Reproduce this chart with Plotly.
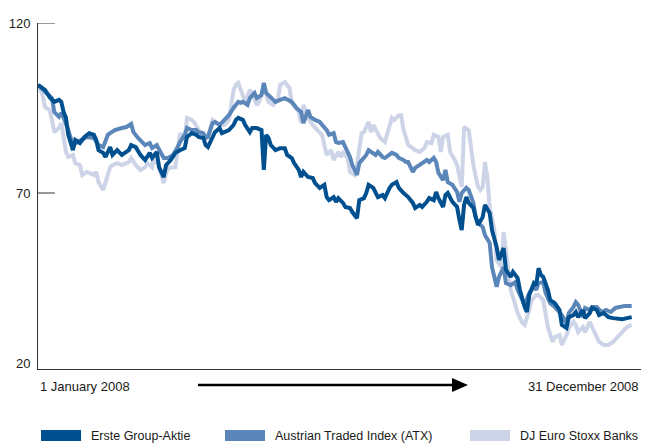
import plotly.graph_objects as go

# trading-day index (0 = 1 Jan 2008, 255 = 31 Dec 2008) and indexed values
erste_day = [0, 3, 5, 7, 9, 10, 11, 12, 13, 15, 16, 18, 20, 22, 24, 25, 26, 28, 29, 31,
             32, 34, 36, 39, 40, 42, 44, 46, 48, 49, 51, 52, 54, 55, 57, 59, 61, 63, 64, 66,
             68, 69, 71, 72, 73, 75, 76, 78, 79, 82, 84, 85, 86, 88, 89, 91, 92, 94, 96, 97,
             98, 99, 100, 102, 104, 106, 107, 109, 110, 112, 113, 114, 116, 118, 119, 121, 123, 124, 125, 127,
             128, 129, 131, 132, 134, 135, 137, 138, 140, 141, 142, 144, 145, 146, 148, 149, 151, 152, 154, 155,
             157, 158, 159, 161, 162, 164, 165, 167, 168, 170, 171, 172, 174, 175, 176, 178, 180, 181, 182, 183,
             184, 185, 187, 188, 189, 191, 192, 194, 195, 197, 198, 200, 201, 203, 204, 206, 207, 209, 210, 211,
             213, 214, 215, 216, 217, 219, 220, 222, 224, 225, 227, 228, 230, 231, 232, 234, 235, 237, 238, 240,
             241, 243, 244, 245, 247, 249, 251, 253, 255]
erste_val = [101.8, 100.3, 98.2, 96.8, 97.4, 96.8, 93.8, 92.1, 87.1, 82.6, 85.6, 84.7, 86.5, 87.6, 87.1, 85.6, 82.6, 81.8, 80.6, 83.5,
             81.2, 82.6, 81.2, 82.6, 84.1, 83.5, 81.2, 79.7, 81.8, 80.3, 82.1, 77.6, 74.7, 78.2, 79.7, 81.8, 82.6, 83.2, 86.5, 87.6,
             87.1, 86.5, 86.2, 84.1, 83.5, 86.2, 87.9, 89.1, 87.6, 88.5, 90.0, 91.5, 92.1, 91.5, 90.0, 87.9, 89.1, 89.1, 88.5, 76.8,
             87.1, 86.2, 84.1, 82.6, 83.2, 83.2, 81.2, 80.3, 78.8, 76.8, 74.7, 76.2, 74.7, 74.4, 72.9, 71.5, 72.4, 68.8, 67.9, 68.8,
             67.4, 68.5, 67.1, 65.9, 65.6, 64.4, 62.6, 67.9, 68.5, 70.0, 72.4, 71.5, 70.3, 68.8, 69.4, 68.5, 71.5, 72.4, 73.2, 71.5,
             70.0, 69.4, 68.8, 67.1, 65.6, 66.5, 65.9, 67.4, 68.5, 67.9, 70.3, 68.5, 65.9, 69.4, 70.0, 67.4, 65.9, 62.1, 59.1, 66.5,
             68.8, 67.1, 65.6, 62.9, 60.6, 62.9, 66.5, 64.1, 59.1, 54.1, 50.3, 53.8, 47.4, 45.3, 46.8, 45.0, 41.5, 36.5, 35.0, 40.0,
             43.5, 42.9, 47.9, 45.9, 45.3, 41.5, 38.5, 37.6, 35.6, 31.2, 30.3, 33.5, 34.1, 35.0, 33.5, 35.6, 33.2, 34.7, 36.2, 35.6,
             34.1, 34.7, 34.1, 33.5, 33.2, 32.9, 32.9, 33.2, 33.5]

atx_day = [0, 3, 5, 6, 7, 9, 10, 11, 13, 15, 17, 19, 21, 24, 26, 28, 30, 31, 33, 36,
           38, 40, 41, 43, 46, 48, 49, 51, 53, 54, 56, 58, 60, 61, 63, 64, 66, 68, 69, 71,
           72, 73, 75, 76, 78, 80, 82, 84, 86, 87, 88, 90, 91, 93, 94, 96, 97, 98, 100, 102,
           104, 106, 109, 111, 113, 114, 116, 117, 119, 121, 124, 125, 127, 128, 129, 131, 132, 134, 135, 137,
           138, 140, 141, 142, 144, 145, 146, 148, 149, 151, 152, 154, 155, 157, 158, 159, 161, 162, 164, 167,
           168, 170, 171, 172, 174, 175, 176, 178, 180, 181, 182, 184, 185, 187, 188, 189, 191, 192, 194, 195,
           197, 198, 200, 201, 203, 205, 206, 208, 209, 211, 213, 214, 215, 217, 218, 220, 222, 225, 227, 228,
           230, 231, 232, 234, 235, 237, 238, 240, 242, 244, 246, 248, 250, 252, 255]
atx_val = [101.8, 99.7, 98.2, 97.9, 93.8, 92.4, 93.5, 92.1, 88.5, 84.1, 85.0, 85.6, 86.5, 86.2, 84.1, 83.5, 87.1, 87.6, 88.5, 89.1,
           89.4, 90.3, 87.9, 86.2, 84.1, 84.7, 83.2, 84.1, 81.2, 80.3, 80.3, 81.2, 83.5, 85.0, 87.1, 89.1, 88.5, 88.5, 87.9, 87.6,
           86.2, 86.5, 90.6, 90.9, 90.0, 91.5, 92.9, 95.0, 96.8, 96.5, 96.8, 95.9, 97.9, 99.4, 97.9, 98.8, 102.4, 99.4, 97.9, 96.8,
           97.4, 97.9, 96.8, 95.0, 93.8, 90.6, 94.4, 92.4, 91.5, 90.9, 88.5, 87.1, 87.6, 85.0, 84.7, 85.0, 83.5, 80.6, 78.2, 75.3,
           78.8, 80.3, 81.2, 82.6, 81.8, 81.2, 82.1, 80.6, 80.3, 81.2, 81.8, 81.2, 80.3, 79.7, 79.1, 79.1, 76.2, 77.4, 78.2, 79.7,
           79.1, 80.3, 79.1, 75.9, 73.8, 76.8, 73.2, 72.4, 70.3, 67.4, 70.0, 71.5, 70.9, 67.1, 62.9, 61.2, 60.0, 57.6, 55.3, 48.2,
           42.4, 45.3, 48.2, 43.5, 42.9, 43.8, 41.5, 38.5, 37.1, 40.6, 42.4, 41.5, 43.5, 43.8, 40.6, 37.6, 36.5, 34.1, 31.8, 34.7,
           36.5, 37.9, 37.1, 33.5, 36.2, 35.6, 36.5, 36.5, 35.0, 35.6, 35.0, 36.2, 36.5, 36.8, 36.8]

dj_day = [0, 2, 3, 5, 6, 7, 9, 10, 11, 12, 13, 15, 16, 18, 19, 21, 22, 24, 25, 26,
          28, 29, 31, 32, 34, 36, 39, 40, 42, 44, 46, 47, 49, 50, 52, 54, 55, 56, 58, 59,
          60, 61, 63, 64, 66, 67, 69, 70, 71, 73, 75, 76, 78, 80, 82, 84, 85, 86, 88, 89,
          91, 92, 94, 95, 97, 99, 101, 103, 104, 106, 108, 109, 112, 113, 114, 116, 118, 120, 122, 124,
          126, 127, 129, 130, 131, 133, 134, 136, 137, 139, 140, 142, 143, 144, 146, 147, 149, 150, 152, 153,
          155, 156, 157, 158, 159, 161, 162, 164, 166, 167, 169, 170, 172, 173, 174, 176, 177, 179, 180, 182,
          183, 185, 186, 187, 189, 190, 191, 192, 193, 194, 196, 197, 199, 200, 202, 203, 204, 206, 208, 209,
          211, 212, 214, 215, 217, 218, 219, 221, 222, 224, 225, 227, 228, 230, 231, 232, 234, 235, 237, 238,
          240, 241, 243, 245, 247, 249, 251, 253, 255]
dj_val = [101.8, 98.8, 95.3, 94.4, 91.5, 87.9, 89.1, 90.6, 86.5, 82.1, 80.6, 81.2, 78.8, 78.2, 75.3, 76.2, 75.9, 75.3, 76.2, 73.2,
          70.9, 73.2, 77.6, 78.2, 78.8, 78.2, 79.1, 80.3, 78.2, 76.8, 77.6, 78.8, 77.6, 80.6, 77.6, 72.9, 75.9, 77.4, 77.6, 77.6,
          82.6, 87.6, 85.6, 92.1, 91.5, 90.9, 88.5, 87.9, 86.5, 86.5, 91.5, 90.9, 90.0, 90.0, 91.5, 100.3, 101.8, 102.4, 98.8, 96.8,
          100.3, 99.4, 95.9, 96.8, 101.5, 96.8, 95.9, 97.4, 101.8, 102.6, 100.9, 96.5, 93.8, 90.6, 95.9, 92.1, 90.0, 88.5, 87.1, 81.2,
          82.6, 79.7, 82.1, 80.6, 81.8, 80.3, 76.2, 75.3, 78.2, 87.6, 87.9, 90.9, 87.9, 90.0, 87.6, 86.2, 85.0, 87.1, 92.1, 91.5,
          92.9, 92.9, 88.5, 86.5, 84.1, 83.2, 82.6, 82.1, 83.2, 85.0, 84.7, 87.1, 86.5, 82.1, 86.5, 87.1, 82.1, 79.7, 78.2, 71.8,
          89.4, 88.5, 82.6, 78.2, 71.8, 70.9, 71.8, 79.1, 74.7, 65.9, 59.1, 50.3, 48.2, 58.5, 47.4, 41.5, 39.4, 34.7, 31.8, 31.2,
          35.6, 38.5, 40.0, 40.0, 38.5, 34.7, 30.6, 26.2, 27.6, 28.2, 25.3, 28.2, 30.3, 32.1, 31.2, 29.1, 30.6, 29.1, 32.1, 30.6,
          27.6, 26.2, 25.3, 25.3, 26.2, 27.6, 29.1, 30.6, 31.2]

series_names = ["Erste Group-Aktie", "Austrian Traded Index (ATX)", "DJ Euro Stoxx Banks"]
colors = ["#00508f", "#5b86b9", "#cdd4e7"]
y_ticks = [20, 70, 120]

FONT = "Liberation Sans, Arial, sans-serif"
TXT = "#1a1a1a"

fig = go.Figure()
# draw light series first so the Erste line sits on top
for days, vals, name, col in [(dj_day, dj_val, series_names[2], colors[2]),
                              (atx_day, atx_val, series_names[1], colors[1]),
                              (erste_day, erste_val, series_names[0], colors[0])]:
    fig.add_trace(go.Scatter(x=days, y=vals, name=name, mode="lines",
                             line=dict(color=col, width=4), showlegend=False))

fig.update_xaxes(range=[0, 259], showgrid=False, zeroline=False, showticklabels=False,
                 showline=True, linecolor="#333333", linewidth=1)
fig.update_yaxes(range=[18.24, 120], tickvals=y_ticks, showgrid=False, zeroline=False,
                 showline=True, linecolor="#333333", linewidth=1,
                 tickfont=dict(family=FONT, size=13, color=TXT), ticklabelstandoff=4)

# inner tick marks at 70 and 120
for v in y_ticks[1:]:
    fig.add_shape(type="line", xref="paper", yref="y", x0=0, x1=0.028, y0=v, y1=v,
                  line=dict(color="#333333", width=1))

# period labels + arrow
fig.add_annotation(text="1 January 2008", xref="paper", yref="paper", x=0, y=-0.052,
                   xanchor="left", yanchor="middle", showarrow=False,
                   font=dict(family=FONT, size=13, color=TXT))
fig.add_annotation(text="31 December 2008", xref="paper", yref="paper", x=1, y=-0.052,
                   xanchor="right", yanchor="middle", showarrow=False,
                   font=dict(family=FONT, size=13, color=TXT))
fig.add_shape(type="line", xref="paper", yref="paper", x0=0.2653, x1=0.695,
              y0=-0.046, y1=-0.046, line=dict(color="black", width=2.5))
fig.add_shape(type="path", xref="paper", yref="paper",
              path="M 0.6866,-0.026 L 0.7131,-0.046 L 0.6866,-0.0665 Z",
              fillcolor="black", line=dict(color="black", width=0))

# custom legend
swatch_x = [0.005, 0.3101, 0.7164]
for i, name in enumerate(series_names):
    fig.add_shape(type="rect", xref="paper", yref="paper",
                  x0=swatch_x[i], x1=swatch_x[i] + 0.0664, y0=-0.2081, y1=-0.1763,
                  fillcolor=colors[i], line=dict(width=0))
    fig.add_annotation(text=name, xref="paper", yref="paper",
                       x=swatch_x[i] + 0.0796, y=-0.1922, xanchor="left", yanchor="middle",
                       showarrow=False, font=dict(family=FONT, size=12.5, color=TXT))

fig.update_layout(width=646, height=444, margin=dict(l=38, r=5, t=23, b=75),
                  plot_bgcolor="white", paper_bgcolor="white")

# drop the default page margin so the figure fills the window exactly
fig.write_html("out.html", config={"displayModeBar": False},
               post_script="document.body.style.margin='0';document.body.style.overflow='hidden';")
